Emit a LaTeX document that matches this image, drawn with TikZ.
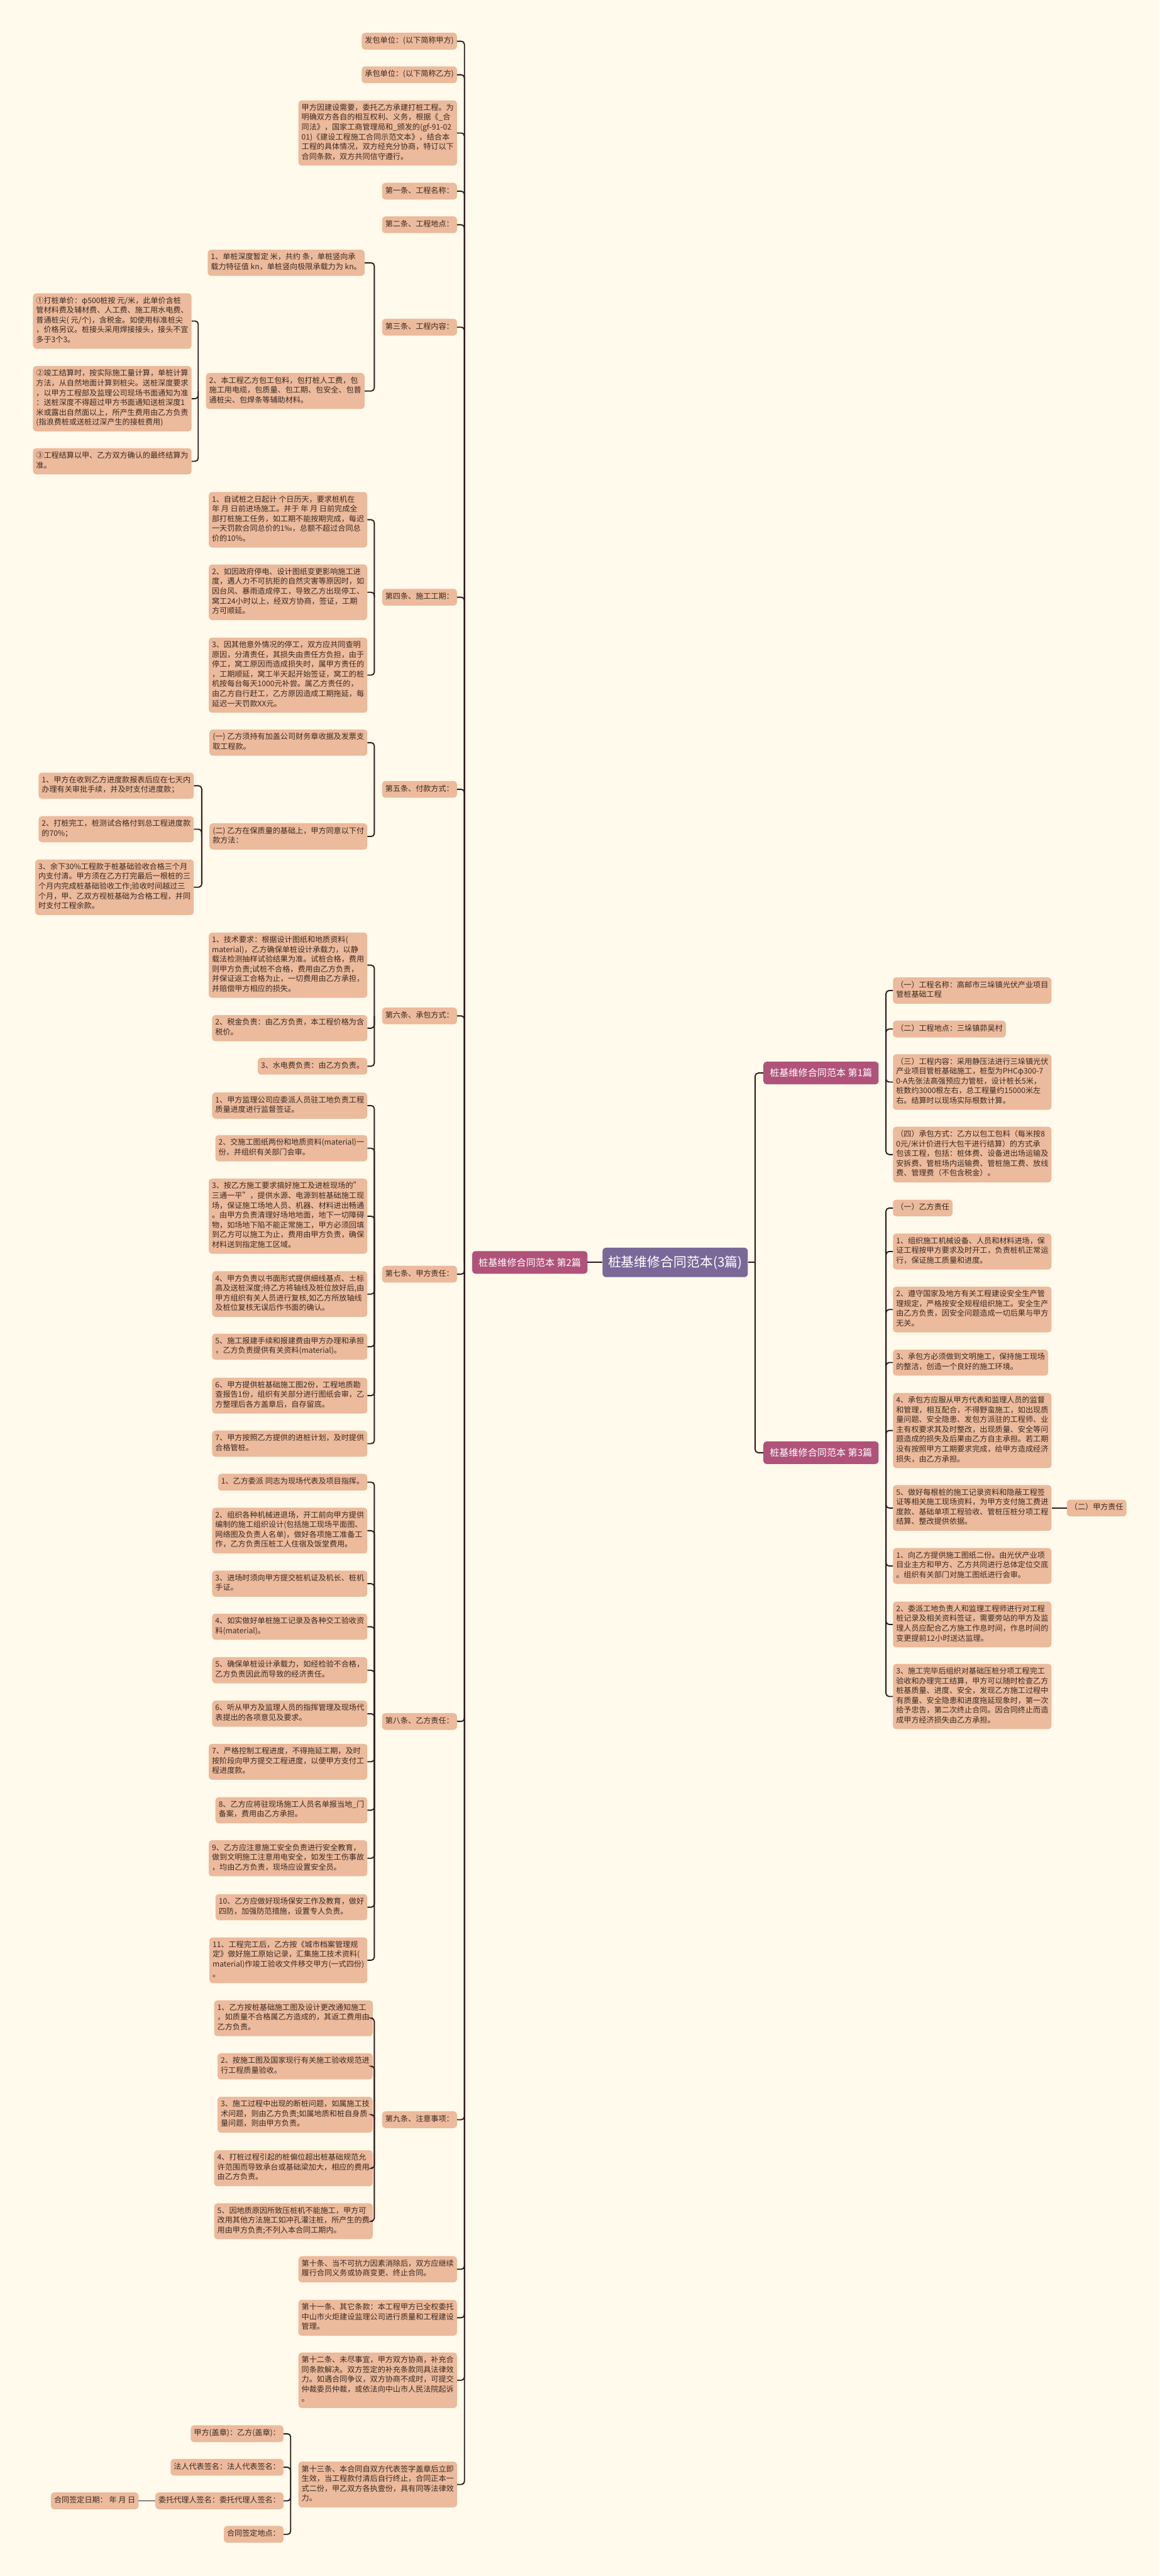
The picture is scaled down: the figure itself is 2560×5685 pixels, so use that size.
\documentclass[tikz,border=0pt]{standalone}
\usepackage{fontspec}
\setmainfont{Noto Sans CJK SC}
\usetikzlibrary{calc}
\definecolor{paper}{HTML}{FFFAEB}
\definecolor{peach}{HTML}{ECBA9C}
\definecolor{rose}{HTML}{B0527A}
\definecolor{plum}{HTML}{7A6898}
\definecolor{ink}{HTML}{3B2A22}
\definecolor{wire}{HTML}{2E1A1C}
\tikzset{
  leaf/.style={fill=peach, text=ink, rounded corners=7pt, align=left,
    inner xsep=7pt, inner ysep=7.7pt, font=\fontsize{16.8}{21.6}\selectfont,
    execute at begin node=\strut, execute at end node=\strut},
  topic/.style={fill=rose, text=white, rounded corners=7pt, inner xsep=14pt,
    minimum height=50pt, font=\fontsize{21}{25}\selectfont},
  mainidea/.style={fill=plum, text=white, rounded corners=8pt, inner xsep=12pt,
    minimum height=65pt, font=\fontsize{29}{34}\selectfont},
  link/.style={draw=wire, line width=2.6pt, rounded corners=7pt}
}
\begin{document}
\begin{tikzpicture}[x=1pt,y=-1pt]
		%%%%% START %%%%%
		\useasboundingbox[fill=paper] (0,0) rectangle (2560,5685);
		
		\node[mainidea] (root) at (1490.5,2786) {桩基维修合同范本(3篇)};
		\node[topic, anchor=east] (p2) at (1297,2786) {桩基维修合同范本 第2篇};
		\node[topic, anchor=west] (p1) at (1685,2368) {桩基维修合同范本 第1篇};
		\node[topic, anchor=west] (p3) at (1685,3206) {桩基维修合同范本 第3篇};
		
		%%%%% 第2篇 %%%%%
		\node[leaf, anchor=east] (a1) at (1009,91) {发包单位：(以下简称甲方)};
		\node[leaf, anchor=east] (a2) at (1009,165) {承包单位：(以下简称乙方)};
		\node[leaf, anchor=east] (a3) at (1009,293.5) {甲方因建设需要，委托乙方承建打桩工程。为\\明确双方各自的相互权利、义务，根据《\_合\\同法》，国家工商管理局和\_颁发的(gf-91-02\\01)《建设工程施工合同示范文本》，结合本\\工程的具体情况，双方经充分协商，特订以下\\合同条款，双方共同信守遵行。};
		\node[leaf, anchor=east] (a4) at (1009,422) {第一条、工程名称：};
		\node[leaf, anchor=east] (a5) at (1009,496) {第二条、工程地点：};
		\node[leaf, anchor=east] (a6) at (1009,722) {第三条、工程内容：};
		\node[leaf, anchor=east] (a7) at (1009,1318) {第四条、施工工期：};
		\node[leaf, anchor=east] (a8) at (1009,1742) {第五条、付款方式：};
		\node[leaf, anchor=east] (a9) at (1009,2242) {第六条、承包方式：};
		\node[leaf, anchor=east] (a10) at (1009,2812) {第七条、甲方责任：};
		\node[leaf, anchor=east] (a11) at (1009,3799) {第八条、乙方责任：};
		\node[leaf, anchor=east] (a12) at (1009,4678) {第九条、注意事项：};
		\node[leaf, anchor=east] (a13) at (1009,5008) {第十条、当不可抗力因素消除后，双方应继续\\履行合同义务或协商变更、终止合同。};
		\node[leaf, anchor=east] (a14) at (1009,5115) {第十一条、其它条款：本工程甲方已全权委托\\中山市火炬建设监理公司进行质量和工程建设\\管理。};
		\node[leaf, anchor=east] (a15) at (1009,5253) {第十二条、未尽事宜，甲方双方协商，补充合\\同条款解决。双方签定的补充条款同具法律效\\力。如遇合同争议，双方协商不成时，可提交\\仲裁委员仲裁，或依法向中山市人民法院起诉\\。};
		\node[leaf, anchor=east] (a16) at (1009,5483) {第十三条、本合同自双方代表签字盖章后立即\\生效，当工程款付清后自行终止，合同正本一\\式二份，甲乙双方各执壹份，具有同等法律效\\力。};
		
		\node[leaf, anchor=east] (b1) at (805,580) {1、单桩深度暂定 米，共约 条，单桩竖向承\\载力特征值 kn，单桩竖向极限承载力为 kn。};
		\node[leaf, anchor=east] (b2) at (805,863) {2、本工程乙方包工包料，包打桩人工费，包\\施工用电缆，包质量、包工期、包安全、包普\\通桩尖、包焊条等辅助材料。};
		\node[leaf, anchor=east] (c1) at (423,708.5) {①打桩单价：φ500桩按 元/米，此单价含桩\\管材料费及辅材费、人工费、施工用水电费、\\普通桩尖( 元/个)，含税金。如使用标准桩尖\\，价格另议。桩接头采用焊接接头，接头不宜\\多于3个3。};
		\node[leaf, anchor=east] (c2) at (423,880) {②竣工结算时，按实际施工量计算，单桩计算\\方法，从自然地面计算到桩尖。送桩深度要求\\，以甲方工程部及监理公司现场书面通知为准\\：送桩深度不得超过甲方书面通知送桩深度1\\米或露出自然面以上，所产生费用由乙方负责\\(指浪费桩或送桩过深产生的接桩费用)};
		\node[leaf, anchor=east] (c3) at (423,1018) {③工程结算以甲、乙方双方确认的最终结算为\\准。};
		
		\node[leaf, anchor=east] (d1) at (811,1147) {1、自试桩之日起计 个日历天，要求桩机在\\年 月 日前进场施工。并于 年 月 日前完成全\\部打桩施工任务，如工期不能按期完成，每迟\\一天罚款合同总价的1‰，总额不超过合同总\\价的10\%。};
		\node[leaf, anchor=east] (d2) at (811,1307) {2、如因政府停电、设计图纸变更影响施工进\\度，遇人力不可抗拒的自然灾害等原因时，如\\因台风、暴雨造成停工，导致乙方出现停工、\\窝工24小时以上，经双方协商，签证，工期\\方可顺延。};
		\node[leaf, anchor=east] (d3) at (811,1490) {3、因其他意外情况的停工，双方应共同查明\\原因，分清责任，其损失由责任方负担，由于\\停工，窝工原因而造成损失时，属甲方责任的\\，工期顺延，窝工半天起开始签证，窝工的桩\\机按每台每天1000元补尝。属乙方责任的，\\由乙方自行赶工，乙方原因造成工期拖延，每\\延迟一天罚款XX元。};
		
		\node[leaf, anchor=east] (e1) at (811,1639) {(一) 乙方须持有加盖公司财务章收据及发票支\\取工程款。};
		\node[leaf, anchor=east] (e2) at (811,1846) {(二) 乙方在保质量的基础上，甲方同意以下付\\款方法：};
		\node[leaf, anchor=east] (f1) at (428,1734) {1、甲方在收到乙方进度款报表后应在七天内\\办理有关审批手续，并及时支付进度款；};
		\node[leaf, anchor=east] (f2) at (428,1830) {2、打桩完工，桩测试合格付到总工程进度款\\的70\%；};
		\node[leaf, anchor=east] (f3) at (428,1958) {3、余下30\%工程款于桩基础验收合格三个月\\内支付清。甲方须在乙方打完最后一根桩的三\\个月内完成桩基础验收工作;验收时间越过三\\个月，甲、乙双方视桩基础为合格工程，并同\\时支付工程余款。};
		
		\node[leaf, anchor=east] (g1) at (811,2130) {1、技术要求：根据设计图纸和地质资料(\\material)，乙方确保单桩设计承载力，以静\\载法检测抽样试验结果为准。试桩合格，费用\\则甲方负责;试桩不合格，费用由乙方负责，\\并保证返工合格为止，一切费用由乙方承担，\\并赔偿甲方相应的损失。};
		\node[leaf, anchor=east] (g2) at (811,2269) {2、税金负责：由乙方负责，本工程价格为含\\税价。};
		\node[leaf, anchor=east] (g3) at (811,2353) {3、水电费负责：由乙方负责。};
		
		\node[leaf, anchor=east] (h1) at (811,2440) {1、甲方监理公司应委派人员驻工地负责工程\\质量进度进行监督签证。};
		\node[leaf, anchor=east] (h2) at (811,2534) {2、交施工图纸两份和地质资料(material)一\\份，并组织有关部门会审。};
		\node[leaf, anchor=east] (h3) at (811,2684) {3、按乙方施工要求搞好施工及进桩现场的"\\三通一平"，提供水源、电源到桩基础施工现\\场，保证施工场地人员、机器、材料进出畅通\\。由甲方负责清理好场地地面，地下一切障碍\\物，如场地下陷不能正常施工，甲方必须回填\\到乙方可以施工为止，费用由甲方负责，确保\\材料送到指定施工区域。};
		\node[leaf, anchor=east] (h4) at (811,2856) {4、甲方负责以书面形式提供细线基点、±标\\高及送桩深度;待乙方将轴线及桩位放好后,由\\甲方组织有关人员进行复核,如乙方所放轴线\\及桩位复核无误后作书面的确认。};
		\node[leaf, anchor=east] (h5) at (811,2972) {5、施工报建手续和报建费由甲方办理和承担\\，乙方负责提供有关资料(material)。};
		\node[leaf, anchor=east] (h6) at (811,3080) {6、甲方提供桩基础施工图2份，工程地质勘\\查报告1份，组织有关部分进行图纸会审，乙\\方整理后各方盖章后，自存留底。};
		\node[leaf, anchor=east] (h7) at (811,3186) {7、甲方按照乙方提供的进桩计划，及时提供\\合格管桩。};
		
		\node[leaf, anchor=east] (i1) at (811,3271) {1、乙方委派 同志为现场代表及项目指挥。};
		\node[leaf, anchor=east] (i2) at (811,3378) {2、组织各种机械进退场，开工前向甲方提供\\编制的施工组织设计(包括施工现场平面图、\\网络图及负责人名单)，做好各项施工准备工\\作，乙方负责压桩工人住宿及饭堂费用。};
		\node[leaf, anchor=east] (i3) at (811,3495) {3、进场时须向甲方提交桩机证及机长、桩机\\手证。};
		\node[leaf, anchor=east] (i4) at (811,3590) {4、如实做好单桩施工记录及各种交工验收资\\料(material)。};
		\node[leaf, anchor=east] (i5) at (811,3686) {5、确保单桩设计承载力，如经检验不合格，\\乙方负责因此而导致的经济责任。};
		\node[leaf, anchor=east] (i6) at (811,3782) {6、听从甲方及监理人员的指挥管理及现场代\\表提出的各项意见及要求。};
		\node[leaf, anchor=east] (i7) at (811,3888) {7、严格控制工程进度，不得拖延工期，及时\\按阶段向甲方提交工程进度，以便甲方支付工\\程进度款。};
		\node[leaf, anchor=east] (i8) at (811,3995) {8、乙方应将驻现场施工人员名单报当地\_门\\备案，费用由乙方承担。};
		\node[leaf, anchor=east] (i9) at (811,4101) {9、乙方应注意施工安全负责进行安全教育，\\做到文明施工注意用电安全，如发生工伤事故\\，均由乙方负责，现场应设置安全员。};
		\node[leaf, anchor=east] (i10) at (811,4209) {10、乙方应做好现场保安工作及教育，做好\\四防，加强防范措施，设置专人负责。};
		\node[leaf, anchor=east] (i11) at (811,4326) {11、工程完工后，乙方按《城市档案管理规\\定》做好施工原始记录，汇集施工技术资料(\\material)作竣工验收文件移交甲方(一式四份)\\。};
		
		\node[leaf, anchor=east] (j1) at (823,4454) {1、乙方按桩基础施工图及设计更改通知施工\\，如质量不合格属乙方造成的，其返工费用由\\乙方负责。};
		\node[leaf, anchor=east] (j2) at (823,4560) {2、按施工图及国家现行有关施工验收规范进\\行工程质量验收。};
		\node[leaf, anchor=east] (j3) at (823,4667) {3、施工过程中出现的断桩问题，如属施工技\\术问题，则由乙方负责;如属地质和桩自身质\\量问题，则由甲方负责。};
		\node[leaf, anchor=east] (j4) at (823,4785) {4、打桩过程引起的桩偏位超出桩基础规范允\\许范围而导致承台或基础梁加大，相应的费用\\由乙方负责。};
		\node[leaf, anchor=east] (j5) at (823,4902) {5、因地质原因所致压桩机不能施工，甲方可\\改用其他方法施工如冲孔灌注桩，所产生的费\\用由甲方负责;不列入本合同工期内。};
		
		\node[leaf, anchor=east] (k1) at (626,5371) {甲方(盖章)：乙方(盖章)：};
		\node[leaf, anchor=east] (k2) at (626,5445) {法人代表签名：法人代表签名：};
		\node[leaf, anchor=east] (k3) at (626,5519) {委托代理人签名：委托代理人签名：};
		\node[leaf, anchor=east] (k4) at (626,5593) {合同签定地点：};
		\node[leaf, anchor=east] (k5) at (306,5519) {合同签定日期： 年 月 日};
		
		%%%%% 第1篇 %%%%%
		\node[leaf, anchor=west] (r1) at (1971,2186) {（一）工程名称：高邮市三垛镇光伏产业项目\\管桩基础工程};
		\node[leaf, anchor=west] (r2) at (1971,2271) {（二）工程地点：三垛镇茆吴村};
		\node[leaf, anchor=west] (r3) at (1971,2388) {（三）工程内容：采用静压法进行三垛镇光伏\\产业项目管桩基础施工，桩型为PHCφ300-7\\0-A先张法高强预应力管桩，设计桩长5米，\\桩数约3000根左右，总工程量约15000米左\\右。结算时以现场实际根数计算。};
		\node[leaf, anchor=west] (r4) at (1971,2548) {（四）承包方式：乙方以包工包料（每米按8\\0元/米计价进行大包干进行结算）的方式承\\包该工程，包括：桩体费、设备进出场运输及\\安拆费、管桩场内运输费、管桩施工费、放线\\费、管理费（不包含税金）。};
		
		%%%%% 第3篇 %%%%%
		\node[leaf, anchor=west] (s1) at (1971,2666) {（一）乙方责任};
		\node[leaf, anchor=west] (s2) at (1971,2762) {1、组织施工机械设备、人员和材料进场，保\\证工程按甲方要求及时开工，负责桩机正常运\\行，保证施工质量和进度。};
		\node[leaf, anchor=west] (s3) at (1971,2890) {2、遵守国家及地方有关工程建设安全生产管\\理规定，严格按安全规程组织施工。安全生产\\由乙方负责，因安全问题造成一切后果与甲方\\无关。};
		\node[leaf, anchor=west] (s4) at (1971,3007) {3、承包方必须做到文明施工，保持施工现场\\的整洁，创造一个良好的施工环境。};
		\node[leaf, anchor=west] (s5) at (1971,3157) {4、承包方应服从甲方代表和监理人员的监督\\和管理，相互配合，不得野蛮施工，如出现质\\量问题、安全隐患、发包方派驻的工程师、业\\主有权要求其及时整改，出现质量、安全等问\\题造成的损失及后果由乙方自主承担。若工期\\没有按照甲方工期要求完成，给甲方造成经济\\损失，由乙方承担。};
		\node[leaf, anchor=west] (s6) at (1971,3328) {5、做好每根桩的施工记录资料和隐蔽工程签\\证等相关施工现场资料，为甲方支付施工费进\\度款、基础单项工程验收、管桩压桩分项工程\\结算、整改提供依据。};
		\node[leaf, anchor=west] (s7) at (1971,3456) {1、向乙方提供施工图纸二份。由光伏产业项\\目业主方和甲方、乙方共同进行总体定位交底\\。组织有关部门对施工图纸进行会审。};
		\node[leaf, anchor=west] (s8) at (1971,3585) {2、委派工地负责人和监理工程师进行对工程\\桩记录及相关资料签证，需要旁站的甲方及监\\理人员应配合乙方施工作息时间，作息时间的\\变更提前12小时送达监理。};
		\node[leaf, anchor=west] (s9) at (1971,3744) {3、施工完毕后组织对基础压桩分项工程完工\\验收和办理完工结算，甲方可以随时检查乙方\\桩基质量、进度、安全，发现乙方施工过程中\\有质量、安全隐患和进度拖延现象时，第一次\\给予忠告，第二次终止合同。因合同终止而造\\成甲方经济损失由乙方承担。};
		\node[leaf, anchor=west] (s10) at (2355,3328) {（二）甲方责任};
		
		%%%%% links %%%%%
		\draw[link] (root.west) -- (p2.east);
		\draw[link] (root.east) -- ++(16,0);
		\foreach \n in {p1,p3} \draw[link] ([xshift=16pt]root.east) |- (\n.west);
		\foreach \n in {r1,r2,r3,r4} \draw[link] ([xshift=16pt]p1.east) |- (\n.west);
		\foreach \n in {s1,s2,s3,s4,s5,s6,s7,s8,s9} \draw[link] ([xshift=16pt]p3.east) |- (\n.west);
		\draw[link] (s6.east) -- (s10.west);
		
		\foreach \i in {1,...,16} \draw[link] ([xshift=-17pt]p2.west) |- (a\i.east);
		\foreach \n in {b1,b2} \draw[link] ([xshift=-17pt]a6.west) |- (\n.east);
		\foreach \n in {c1,c2,c3} \draw[link] ([xshift=-17pt]b2.west) |- (\n.east);
		\foreach \n in {d1,d2,d3} \draw[link] ([xshift=-17pt]a7.west) |- (\n.east);
		\foreach \n in {e1,e2} \draw[link] ([xshift=-17pt]a8.west) |- (\n.east);
		\foreach \n in {f1,f2,f3} \draw[link] ([xshift=-17pt]e2.west) |- (\n.east);
		\foreach \n in {g1,g2,g3} \draw[link] ([xshift=-17pt]a9.west) |- (\n.east);
		\foreach \n in {h1,h2,h3,h4,h5,h6,h7} \draw[link] ([xshift=-17pt]a10.west) |- (\n.east);
		\foreach \i in {1,...,11} \draw[link] ([xshift=-17pt]a11.west) |- (i\i.east);
		\foreach \n in {j1,j2,j3,j4,j5} \draw[link] ([xshift=-17pt]a12.west) |- (\n.east);
		\foreach \n in {k1,k2,k3,k4} \draw[link] ([xshift=-17pt]a16.west) |- (\n.east);
		\draw[link] (k3.west) -- (k5.east);
		
		%%%%% END %%%%%
\end{tikzpicture}
\end{document}
